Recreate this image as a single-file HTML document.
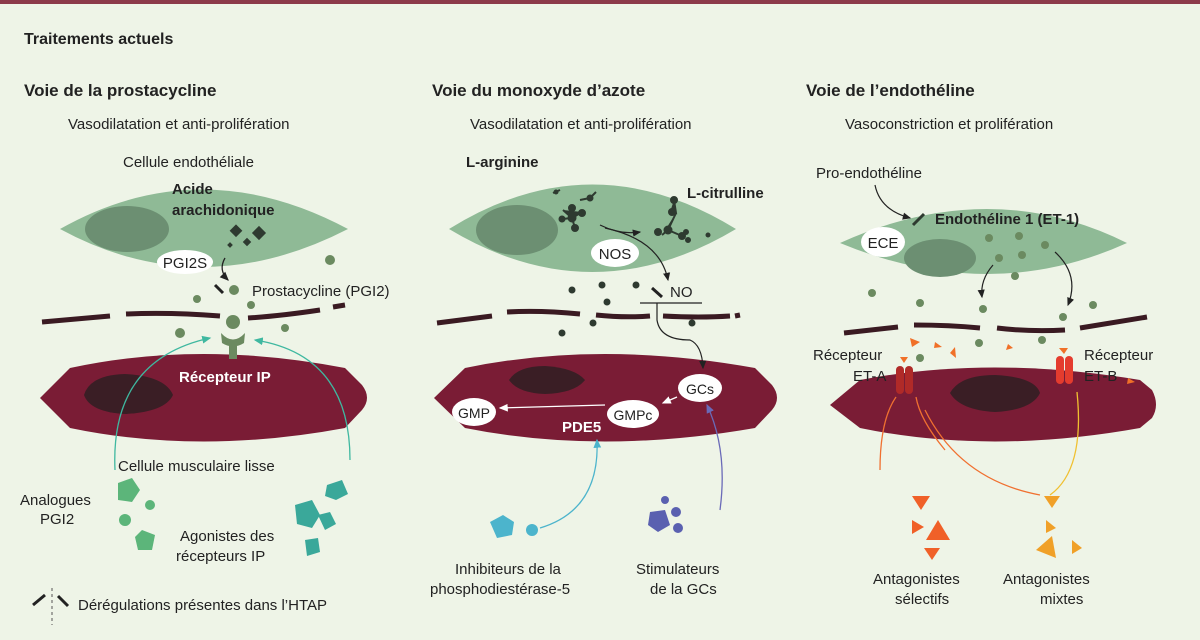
<!DOCTYPE html>
<html><head><meta charset="utf-8"><style>
body{margin:0;width:1200px;height:635px;background:#eef4e7;overflow:hidden}
svg text{font-family:"Liberation Sans",sans-serif}
</style></head><body>
<svg width="1200" height="635" viewBox="0 0 1200 635" xmlns="http://www.w3.org/2000/svg">
<defs>
<marker id="ab" markerWidth="8" markerHeight="8" refX="6" refY="4" orient="auto"><path d="M0,1 L7,4 L0,7z" fill="#222"/></marker>
<marker id="at" markerWidth="8" markerHeight="8" refX="6" refY="4" orient="auto"><path d="M0,1 L7,4 L0,7z" fill="#3fb8a0"/></marker>
<marker id="aw" markerWidth="8" markerHeight="8" refX="6" refY="4" orient="auto"><path d="M0,1 L7,4 L0,7z" fill="#fff"/></marker>
<marker id="ac" markerWidth="8" markerHeight="8" refX="6" refY="4" orient="auto"><path d="M0,1 L7,4 L0,7z" fill="#4cb4cc"/></marker>
<marker id="ap" markerWidth="8" markerHeight="8" refX="6" refY="4" orient="auto"><path d="M0,1 L7,4 L0,7z" fill="#6a6ab8"/></marker>
</defs>
<rect width="1200" height="4" fill="#8c3a4a"/>
<g font-size="15" fill="#222">
<text x="24" y="44" font-weight="bold" font-size="16">Traitements actuels</text>
<text x="24" y="96" font-weight="bold" font-size="17">Voie de la prostacycline</text>
<text x="432" y="96" font-weight="bold" font-size="17">Voie du monoxyde d’azote</text>
<text x="806" y="96" font-weight="bold" font-size="17">Voie de l’endothéline</text>
<text x="68" y="129">Vasodilatation et anti-prolifération</text>
<text x="470" y="129">Vasodilatation et anti-prolifération</text>
<text x="845" y="129">Vasoconstriction et prolifération</text>
</g>
<!-- Panel 1 -->
<path d="M60,229 Q200,150 348,229 Q200,305 60,229Z" fill="#8fba96"/>
<ellipse cx="127" cy="229" rx="42" ry="23" fill="#6c8f72"/>
<path d="M40,398 L70,368 Q200,340 345,368 L362,385 Q372,398 362,410 L345,428 Q200,455 70,428Z" fill="#7a1c35"/>
<path d="M84,395 Q90,375 125,374 Q165,376 173,395 Q165,412 125,414 Q90,412 84,395Z" fill="#3a1e25"/>
<g stroke="#3a1a22" stroke-width="5" fill="none">
<path d="M42,322 L110,316"/><path d="M126,314 Q170,312 220,316"/><path d="M248,318 Q280,316 320,310"/><path d="M333,307 L345,305"/>
</g>
<g fill="#6b8a60"><circle cx="234" cy="290" r="5"/><circle cx="197" cy="299" r="4"/><circle cx="251" cy="305" r="4"/><circle cx="330" cy="260" r="5"/><circle cx="180" cy="333" r="5"/><circle cx="285" cy="328" r="4"/><circle cx="233" cy="322" r="7"/></g>
<path d="M221,333 Q233,346 245,333 L244,343 Q233,350 222,343Z M229,345 h8 v14 h-8z" fill="#6b8a60"/>
<g fill="#2e3a30"><rect x="232" y="226" width="9" height="9" transform="rotate(45 236 230)"/><rect x="254" y="228" width="10" height="10" transform="rotate(45 259 233)"/><rect x="244" y="239" width="6" height="6" transform="rotate(45 247 242)"/><rect x="228" y="243" width="4" height="4" transform="rotate(45 230 245)"/></g>
<text x="172" y="194" font-weight="bold" font-size="15" fill="#222">Acide</text>
<text x="172" y="215" font-weight="bold" font-size="15" fill="#222">arachidonique</text>
<ellipse cx="185" cy="262" rx="28" ry="12" fill="#fff"/><text x="185" y="268" text-anchor="middle" font-size="15" fill="#222">PGI2S</text>
<path d="M225,258 Q218,270 228,280" stroke="#222" stroke-width="1.3" fill="none" marker-end="url(#ab)"/>
<line x1="215" y1="285" x2="223" y2="293" stroke="#222" stroke-width="3"/>
<text x="252" y="296" font-size="15" fill="#222">Prostacycline (PGI2)</text>
<text x="123" y="167" font-size="15" fill="#222">Cellule endothéliale</text>
<text x="179" y="382" font-weight="bold" font-size="15" fill="#fff">Récepteur IP</text>
<path d="M115,470 Q110,360 210,338" stroke="#3fb8a0" stroke-width="1.3" fill="none" marker-end="url(#at)"/>
<path d="M350,460 Q350,355 255,340" stroke="#3fb8a0" stroke-width="1.3" fill="none" marker-end="url(#at)"/>
<text x="118" y="471" font-size="15" fill="#222">Cellule musculaire lisse</text>
<g fill="#5cb57a"><polygon points="118,483 132,478 140,490 132,502 118,500"/><circle cx="125" cy="520" r="6"/><polygon points="142,530 155,535 152,550 138,550 135,537"/><circle cx="150" cy="505" r="5"/></g>
<g fill="#3aa89a"><polygon points="327,485 342,480 348,494 336,500 325,496"/><polygon points="295,505 312,500 320,515 312,528 297,524"/><polygon points="318,515 330,512 336,524 325,530"/><polygon points="305,540 318,538 320,552 307,556"/></g>
<text x="20" y="505" font-size="15" fill="#222">Analogues</text><text x="40" y="524" font-size="15" fill="#222">PGI2</text>
<text x="180" y="541" font-size="15" fill="#222">Agonistes des</text><text x="176" y="561" font-size="15" fill="#222">récepteurs IP</text>
<line x1="33" y1="605" x2="45" y2="595" stroke="#222" stroke-width="3"/><line x1="52" y1="588" x2="52" y2="625" stroke="#555" stroke-dasharray="3,3"/><line x1="58" y1="596" x2="68" y2="606" stroke="#222" stroke-width="3"/>
<text x="78" y="610" font-size="15" fill="#222">Dérégulations présentes dans l’HTAP</text>
<!-- Panel 2 -->
<path d="M449,229 Q592,140 736,229 Q592,315 449,229Z" fill="#8fba96"/>
<ellipse cx="517" cy="230" rx="41" ry="25" fill="#6c8f72"/>
<path d="M434,398 L465,368 Q600,340 755,368 L772,385 Q782,398 772,410 L755,428 Q600,455 465,428Z" fill="#7a1c35"/>
<path d="M509,380 Q518,366 545,366 Q575,368 585,380 Q575,393 545,394 Q518,393 509,380Z" fill="#3a1e25"/>
<g stroke="#3a1a22" stroke-width="5" fill="none">
<path d="M437,323 L492,316"/><path d="M507,312 Q540,310 580,314"/><path d="M596,315 Q625,318 650,316"/><path d="M663,316 Q700,318 730,316"/><path d="M735,316 L740,315"/>
</g>
<g fill="#2e3a30"><circle cx="572" cy="290" r="3.5"/><circle cx="602" cy="285" r="3.5"/><circle cx="636" cy="285" r="3.5"/><circle cx="607" cy="302" r="3.5"/><circle cx="593" cy="323" r="3.5"/><circle cx="562" cy="333" r="3.5"/><circle cx="692" cy="323" r="3.5"/></g>
<g stroke="#2e3a30" stroke-width="2" fill="#2e3a30"><path d="M563,210 L572,218 L582,212 M572,218 L575,228 M572,218 L562,219"/><circle cx="572" cy="208" r="3"/><circle cx="572" cy="218" r="3.5"/><circle cx="575" cy="228" r="3"/><circle cx="582" cy="213" r="3"/><circle cx="562" cy="219" r="2.5"/>
<path d="M580,200 L590,198 M590,198 L596,192"/><circle cx="590" cy="198" r="2.5"/>
<path d="M553,193 L560,190"/><circle cx="556" cy="192" r="1.5"/>
<path d="M670,212 L676,213 L674,200 M676,213 L668,230 L662,235 M668,230 L682,236"/><circle cx="672" cy="212" r="3"/><circle cx="674" cy="200" r="3"/><circle cx="668" cy="230" r="3.5"/><circle cx="658" cy="232" r="3"/><circle cx="682" cy="236" r="3"/>
<circle cx="686" cy="232" r="2"/><circle cx="688" cy="240" r="2"/><circle cx="708" cy="235" r="1.5"/></g>
<path d="M600,225 Q620,235 640,232" stroke="#222" stroke-width="1.2" fill="none" marker-end="url(#ab)"/>
<text x="466" y="167" font-weight="bold" font-size="15" fill="#222">L-arginine</text>
<text x="687" y="198" font-weight="bold" font-size="15" fill="#222">L-citrulline</text>
<ellipse cx="615" cy="253" rx="24" ry="14" fill="#fff"/><text x="615" y="259" text-anchor="middle" font-size="15" fill="#222">NOS</text>
<path d="M605,228 Q660,240 668,280" stroke="#222" stroke-width="1.2" fill="none" marker-end="url(#ab)"/>
<line x1="652" y1="288" x2="662" y2="297" stroke="#222" stroke-width="3"/>
<text x="670" y="297" font-size="15" fill="#222">NO</text>
<line x1="640" y1="303" x2="702" y2="303" stroke="#222" stroke-width="1.3"/>
<path d="M657,303 L657,320 Q660,340 690,340 Q702,345 703,368" stroke="#222" stroke-width="1.2" fill="none" marker-end="url(#ab)"/>
<ellipse cx="700" cy="388" rx="22" ry="14" fill="#fff"/><text x="700" y="394" text-anchor="middle" font-size="14" fill="#222">GCs</text>
<ellipse cx="633" cy="414" rx="26" ry="14" fill="#fff"/><text x="633" y="420" text-anchor="middle" font-size="14" fill="#222">GMPc</text>
<ellipse cx="474" cy="412" rx="22" ry="14" fill="#fff"/><text x="474" y="418" text-anchor="middle" font-size="14" fill="#222">GMP</text>
<path d="M677,397 L663,403" stroke="#fff" stroke-width="1.3" marker-end="url(#aw)"/>
<path d="M605,405 L500,408" stroke="#fff" stroke-width="1.3" marker-end="url(#aw)"/>
<text x="562" y="432" font-weight="bold" font-size="15" fill="#fff">PDE5</text>
<path d="M540,528 Q600,510 597,440" stroke="#4cb4cc" stroke-width="1.3" fill="none" marker-end="url(#ac)"/>
<path d="M720,510 Q728,450 707,405" stroke="#6a6ab8" stroke-width="1.3" fill="none" marker-end="url(#ap)"/>
<g fill="#4cb4cc"><polygon points="490,522 503,515 514,522 512,535 497,538"/><circle cx="532" cy="530" r="6"/></g>
<g fill="#5a60b0"><polygon points="650,512 665,510 670,525 658,532 648,525"/><circle cx="676" cy="512" r="5"/><circle cx="678" cy="528" r="5"/><circle cx="665" cy="500" r="4"/></g>
<text x="455" y="574" font-size="15" fill="#222">Inhibiteurs de la</text><text x="430" y="594" font-size="15" fill="#222">phosphodiestérase-5</text>
<text x="636" y="574" font-size="15" fill="#222">Stimulateurs</text><text x="650" y="594" font-size="15" fill="#222">de la GCs</text>
<!-- Panel 3 -->
<path d="M840,243 Q990,175 1127,243 Q990,305 840,243Z" fill="#8fba96"/>
<ellipse cx="940" cy="258" rx="36" ry="19" fill="#6c8f72"/>
<path d="M830,405 L860,380 Q990,355 1140,380 L1152,390 Q1160,405 1152,418 L1140,428 Q990,455 860,428Z" fill="#7a1c35"/>
<path d="M950,393 Q960,375 995,375 Q1035,377 1040,393 Q1032,410 995,412 Q960,410 950,393Z" fill="#3a1e25"/>
<g stroke="#3a1a22" stroke-width="5" fill="none">
<path d="M844,333 L898,327"/><path d="M914,325 Q950,325 980,328"/><path d="M997,328 Q1030,332 1065,330"/><path d="M1080,328 L1147,317"/>
</g>
<g fill="#6b8a60"><circle cx="989" cy="238" r="4"/><circle cx="1019" cy="236" r="4"/><circle cx="1045" cy="245" r="4"/><circle cx="999" cy="258" r="4"/><circle cx="1022" cy="255" r="4"/><circle cx="1015" cy="276" r="4"/><circle cx="872" cy="293" r="4"/><circle cx="920" cy="303" r="4"/><circle cx="983" cy="309" r="4"/><circle cx="1063" cy="317" r="4"/><circle cx="1093" cy="305" r="4"/><circle cx="979" cy="343" r="4"/><circle cx="1042" cy="340" r="4"/><circle cx="920" cy="358" r="4"/></g>
<path d="M993,265 Q980,280 982,297" stroke="#222" stroke-width="1.2" fill="none" marker-end="url(#ab)"/>
<path d="M1055,252 Q1080,275 1068,305" stroke="#222" stroke-width="1.2" fill="none" marker-end="url(#ab)"/>
<text x="816" y="178" font-size="15" fill="#222">Pro-endothéline</text>
<path d="M875,185 Q880,210 910,218" stroke="#222" stroke-width="1.2" fill="none" marker-end="url(#ab)"/>
<line x1="913" y1="225" x2="924" y2="214" stroke="#2e3a30" stroke-width="3"/>
<text x="935" y="224" font-weight="bold" font-size="15" fill="#222">Endothéline 1 (ET-1)</text>
<ellipse cx="883" cy="242" rx="22" ry="15" fill="#fff"/><text x="883" y="248" text-anchor="middle" font-size="15" fill="#222">ECE</text>
<g fill="#f07028"><polygon points="910,338 920,342 912,347"/><polygon points="935,342 942,347 934,348"/><polygon points="950,353 955,347 956,358"/><polygon points="1008,344 1013,348 1006,350"/><polygon points="1128,378 1135,382 1127,384"/><polygon points="900,357 908,357 904,363"/><polygon points="1059,348 1068,348 1064,354"/></g>
<g fill="#b02a28"><rect x="896" y="366" width="8" height="28" rx="4"/><rect x="905" y="366" width="8" height="28" rx="4"/></g>
<g fill="#e43c2e"><rect x="1056" y="356" width="8" height="28" rx="4"/><rect x="1065" y="356" width="8" height="28" rx="4"/></g>
<text x="813" y="360" font-size="15" fill="#222">Récepteur</text><text x="853" y="381" font-size="15" fill="#222">ET-A</text>
<text x="1084" y="360" font-size="15" fill="#222">Récepteur</text><text x="1084" y="381" font-size="15" fill="#222">ET-B</text>
<g stroke="#f07030" stroke-width="1.3" fill="none"><path d="M880,470 Q880,420 896,397"/><path d="M945,450 Q920,420 916,397"/><path d="M1040,495 Q960,480 925,410"/></g>
<path d="M1050,495 Q1085,470 1077,392" stroke="#f0c030" stroke-width="1.3" fill="none"/>
<g fill="#f06028"><polygon points="912,496 930,496 921,510"/><polygon points="938,520 950,540 926,540"/><polygon points="912,520 924,527 912,534"/><polygon points="924,548 940,548 932,560"/></g>
<g fill="#f0a028"><polygon points="1044,496 1060,496 1052,508"/><polygon points="1046,520 1056,528 1046,533"/><polygon points="1036,550 1052,536 1056,558"/><polygon points="1072,540 1082,548 1072,554"/></g>
<text x="873" y="584" font-size="15" fill="#222">Antagonistes</text><text x="895" y="604" font-size="15" fill="#222">sélectifs</text>
<text x="1003" y="584" font-size="15" fill="#222">Antagonistes</text><text x="1040" y="604" font-size="15" fill="#222">mixtes</text>
</svg>
</body></html>
